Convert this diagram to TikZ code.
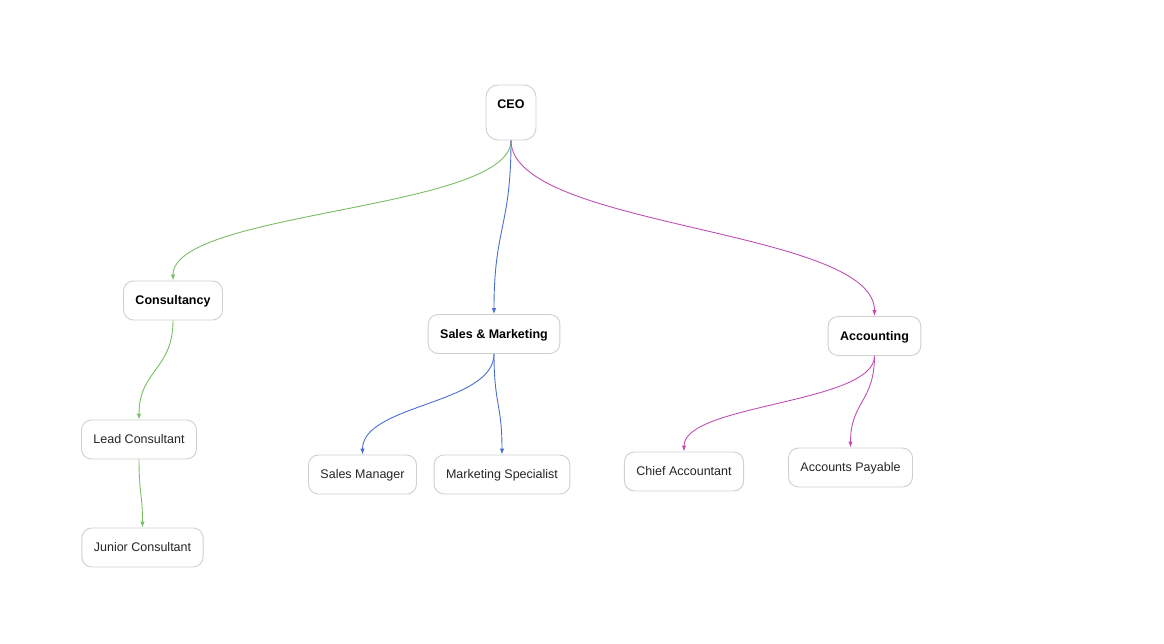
\documentclass[tikz,border=0pt]{standalone}
\usepackage{fontspec}
\setmainfont{Liberation Sans}
\usetikzlibrary{shapes,arrows,arrows.meta}
\usetikzlibrary{positioning}
\usetikzlibrary{calc}
\definecolor{consgreen}{HTML}{78BE64}
\definecolor{salesblue}{HTML}{4A6ED0}
\definecolor{accmagenta}{HTML}{BE50B4}
\definecolor{boxgray}{HTML}{CFCFCF}
\tikzstyle{box} = [draw=boxgray, line width=0.9pt, rounded corners=10pt,
fill=white, minimum height=39pt, inner xsep=12pt, text=black!85,
text height=9pt, text depth=0.5pt, font=\fontsize{12.5}{14}\selectfont]
\tikzstyle{line} = [draw, -{Latex[length=6pt,width=4.5pt]}]
\begin{document}
\begin{tikzpicture}[x=1pt, y=-1pt,
	head/.style={box, font=\fontsize{12.5}{14}\selectfont\bfseries, text=black},
	link/.style={line, line width=0.9pt, to path={let \p1=(\tikztostart), \p2=(\tikztotarget) in
		.. controls (\x1,{(\y1+\y2)/2}) and (\x2,{(\y1+\y2)/2}) .. (\tikztotarget) \tikztonodes}}]
	\useasboundingbox (0,0) rectangle (1164,644);
	% Top
	\node [head, minimum width=50pt, minimum height=55pt, rounded corners=12pt,
		inner xsep=0pt, text depth=16pt] at (511,112.5) (ceo) {CEO};
	% Departments
	\node [head] at (173,300.5) (cons) {Consultancy};
	\node [head] at (494,334) (sales) {Sales \& Marketing};
	\node [head] at (874.5,336) (acc) {Accounting};
	% Staff
	\node [box] at (139,439.5) (lead) {Lead Consultant};
	\node [box] at (142.5,547.5) (junior) {Junior Consultant};
	\node [box] at (362.5,474.5) (salesman) {Sales Manager};
	\node [box] at (502,474.5) (mktspec) {Marketing Specialist};
	\node [box] at (684,471.5) (chief) {Chief Accountant};
	\node [box] at (850.5,467.5) (payable) {Accounts Payable};
	%% Flows
	% Consultancy
	\path [link, consgreen] (ceo.south) to (cons.north);
	\path [link, consgreen] (cons.south) to (lead.north);
	\path [link, consgreen] (lead.south) to (junior.north);
	% Sales & Marketing
	\path [link, salesblue] (ceo.south) to (sales.north);
	\path [link, salesblue] (sales.south) to (salesman.north);
	\path [link, salesblue] (sales.south) to (mktspec.north);
	% Accounting
	\path [link, accmagenta] (ceo.south) to (acc.north);
	\path [link, accmagenta] (acc.south) to (chief.north);
	\path [link, accmagenta] (acc.south) to (payable.north);
\end{tikzpicture}
\end{document}
